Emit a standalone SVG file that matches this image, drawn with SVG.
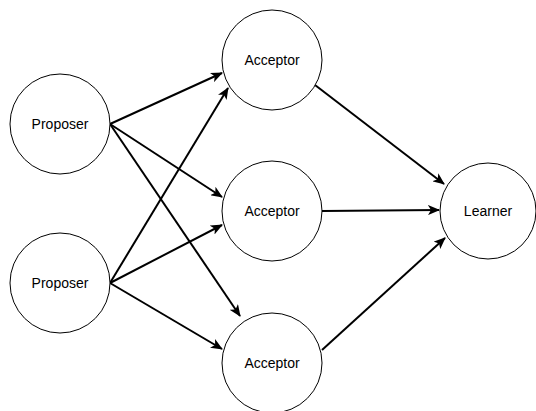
<svg xmlns="http://www.w3.org/2000/svg" width="536" height="411" viewBox="0 0 536 411">
  <style>
    .node circle { fill: #fff; stroke: #000; stroke-width: 1; }
    .node text { font-family: "Liberation Sans", Arial, Helvetica, sans-serif; font-size: 14px; fill: #000; text-anchor: middle; dominant-baseline: central; }
    .edge { stroke: #000; stroke-width: 2; fill: none; marker-end: url(#arrow); }
  </style>
  <defs>
    <marker id="arrow" viewBox="0 0 12 10" refX="11" refY="5" markerWidth="6" markerHeight="5" markerUnits="strokeWidth" orient="auto">
      <path d="M0,0 L12,5 L0,10 L3,5 Z" fill="#000"/>
    </marker>
  </defs>
  <rect width="536" height="411" fill="#fff"/>

  <g id="connectors">
    <line class="edge" x1="110" y1="124" x2="222" y2="73"/>
    <line class="edge" x1="110" y1="124" x2="222" y2="197"/>
    <line class="edge" x1="110" y1="124" x2="240" y2="316"/>
    <line class="edge" x1="110" y1="283" x2="228" y2="88"/>
    <line class="edge" x1="110" y1="283" x2="222" y2="225"/>
    <line class="edge" x1="110" y1="283" x2="222" y2="349"/>
    <line class="edge" x1="315" y1="85" x2="444" y2="184"/>
    <line class="edge" x1="322" y1="211" x2="439" y2="210"/>
    <line class="edge" x1="322" y1="350" x2="445" y2="238"/>
  </g>

  <g id="proposer1" class="node">
    <circle cx="60" cy="124" r="50"/>
    <text x="60" y="124">Proposer</text>
  </g>
  <g id="proposer2" class="node">
    <circle cx="60" cy="283" r="50"/>
    <text x="60" y="283">Proposer</text>
  </g>
  <g id="acceptor1" class="node">
    <circle cx="272" cy="60" r="50"/>
    <text x="272" y="60">Acceptor</text>
  </g>
  <g id="acceptor2" class="node">
    <circle cx="272" cy="211" r="50"/>
    <text x="272" y="211">Acceptor</text>
  </g>
  <g id="acceptor3" class="node">
    <circle cx="272" cy="363" r="50"/>
    <text x="272" y="363">Acceptor</text>
  </g>
  <g id="learner" class="node">
    <circle cx="488" cy="211" r="48"/>
    <text x="488" y="211">Learner</text>
  </g>
</svg>
